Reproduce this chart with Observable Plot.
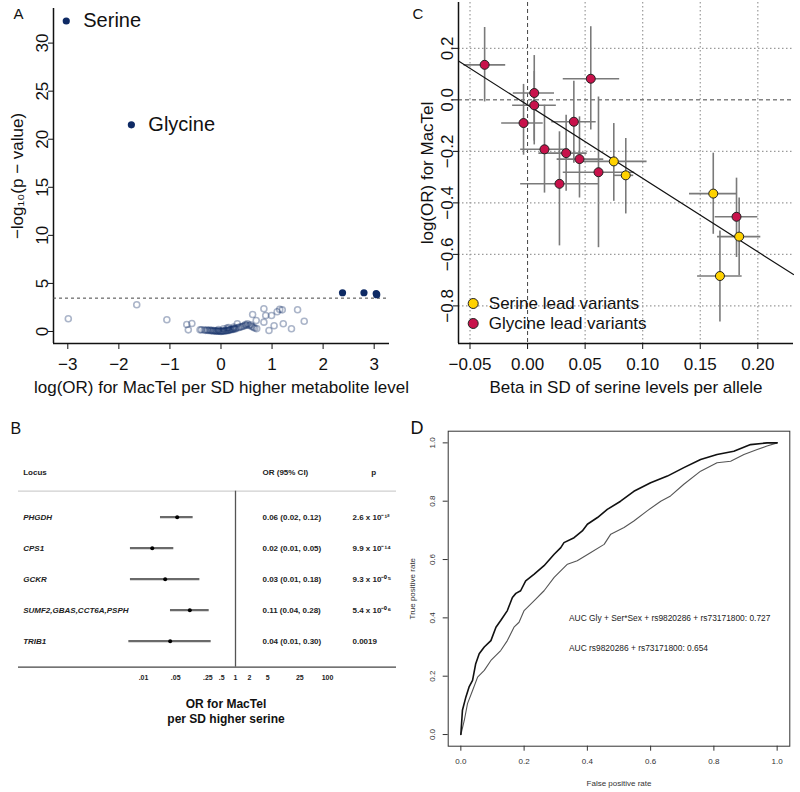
<!DOCTYPE html>
<html><head><meta charset="utf-8">
<script src="https://cdn.jsdelivr.net/npm/d3@7"></script>
<script src="https://cdn.jsdelivr.net/npm/@observablehq/plot@0.6"></script>
<style>
body{margin:0;background:#fff;}
#fig{position:relative;width:800px;height:792px;overflow:hidden;background:#fff;}
.panel{position:absolute;width:400px;}
.panel svg{overflow:visible;background:transparent;}
</style></head><body>
<div id="fig">
<div class="panel" id="pA" style="left:0;top:0;height:400px"></div>
<div class="panel" id="pC" style="left:400px;top:0;height:400px"></div>
<div class="panel" id="pB" style="left:0;top:400px;height:392px"></div>
<div class="panel" id="pD" style="left:400px;top:400px;height:392px"></div>
</div>
<script>
const FONT = '"Liberation Sans", Arial, Helvetica, sans-serif';

// ---------- Panel A data ----------
const labeledNames = ["Serine", "Glycine"];
const labeledLogOR = [-3.03, -1.755];
const labeledP = [32.3, 21.5];
const sigLogOR = [2.38, 2.80, 3.04, 3.05];
const sigP = [4.03, 4.03, 3.95, 3.83];
const otherLogOR = [-2.99, -1.65, -1.06, -0.67, -0.57, -0.64,
  -0.41, -0.38, -0.33, -0.30, -0.27, -0.25, -0.22, -0.20, -0.18, -0.16, -0.14, -0.12, -0.10, -0.08,
  -0.06, -0.04, -0.02, 0.00, 0.02, 0.04, 0.06, 0.08, 0.10, 0.12, 0.14, 0.16, 0.18, 0.20, 0.22, 0.24,
  0.26, 0.28, 0.30, 0.32, 0.34, 0.37, 0.40, 0.43, 0.46, 0.48, 0.50, 0.52, 0.55, 0.58, 0.60, 0.63,
  0.66, 0.70, 0.12, 0.25, 0.05, -0.05, 0.15,
  0.62, 0.69, 0.84, 0.876, 0.99, 0.84, 0.94, 1.04, 1.10, 1.15, 1.20, 1.22, 1.38, 1.50, 1.63];
const otherP = [1.32, 2.78, 1.22, 0.73, 0.83, 0.17,
  0.17, 0.18, 0.16, 0.12, 0.15, 0.10, 0.14, 0.08, 0.12, 0.05, 0.10, 0.04, 0.08, 0.03,
  0.06, 0.02, 0.05, 0.01, 0.04, 0.02, 0.07, 0.05, 0.10, 0.08, 0.14, 0.12, 0.20, 0.18, 0.25, 0.22,
  0.30, 0.27, 0.35, 0.80, 0.40, 0.45, 0.50, 0.55, 0.60, 0.72, 0.65, 0.80, 0.62, 0.70, 0.55, 0.45,
  0.35, 0.30, 0.35, 0.45, 0.28, 0.20, 0.40,
  1.77, 1.15, 2.36, 1.67, 1.67, 0.97, 0.10, 0.60, 2.05, 2.30, 2.25, 0.80, 0.28, 2.26, 1.07];
const thresholdP = 3.47;
const aTicksX = [-3, -2, -1, 0, 1, 2, 3];
const aTicksY = [0, 5, 10, 15, 20, 25, 30];

// ---------- Panel B data ----------
const loci = ["PHGDH", "CPS1", "GCKR", "SUMF2,GBAS,CCT6A,PSPH", "TRIB1"];
const forestOR = [0.054, 0.0155, 0.0296, 0.1016, 0.038];
const forestLo = [0.0234, 0.0052, 0.0052, 0.0386, 0.0048];
const forestHi = [0.120, 0.0456, 0.168, 0.268, 0.296];
const orText = ["0.06 (0.02, 0.12)", "0.02 (0.01, 0.05)", "0.03 (0.01, 0.18)", "0.11 (0.04, 0.28)", "0.04 (0.01, 0.30)"];
const pText = ["2.6 x 10\u207B\u00B9\u00B2", "9.9 x 10\u207B\u00B9\u2074", "9.3 x 10\u207B\u2070\u2075", "5.4 x 10\u207B\u2070\u2076", "0.0019"];
const forestTicks = [0.01, 0.05, 0.25, 0.5, 1, 2, 5, 25, 100];
const forestTickLabels = [".01", ".05", ".25", ".5", "1", "2", "5", "25", "100"];

// ---------- Panel C data ----------
const serBeta = [0.0749, 0.0853, 0.1613, 0.1838, 0.1671];
const serBetaLo = [0.0483, 0.0749, 0.1407, 0.165, 0.1477];
const serBetaHi = [0.1038, 0.0922, 0.1823, 0.2026, 0.1864];
const serLogOR = [-0.239, -0.293, -0.364, -0.531, -0.684];
const serLogORLo = [-0.394, -0.443, -0.522, -0.683, -0.863];
const serLogORHi = [-0.092, -0.150, -0.207, -0.381, -0.509];
const glyBeta = [-0.0373, 0.0058, 0.0058, -0.0035, 0.0549, 0.0402, 0.0147, 0.0335, 0.0451, 0.0277, 0.0616, 0.1815];
const glyBetaLo = [-0.0552, -0.0124, -0.013, -0.0225, 0.031, 0.021, -0.006, 0.0098, 0.0257, -0.006, 0.031, 0.163];
const glyBetaHi = [-0.019, 0.0234, 0.025, 0.0136, 0.080, 0.0596, 0.0358, 0.0518, 0.0662, 0.062, 0.093, 0.200];
const glyLogOR = [0.136, 0.0266, -0.021, -0.090, 0.082, -0.085, -0.192, -0.207, -0.230, -0.326, -0.281, -0.454];
const glyLogORLo = [-0.008, -0.175, -0.16, -0.215, -0.117, -0.246, -0.362, -0.355, -0.381, -0.567, -0.574, -0.612];
const glyLogORHi = [0.281, 0.172, 0.11, 0.060, 0.284, 0.072, -0.021, -0.06, -0.066, -0.124, 0.011, -0.304];
const fitIntercept = -0.02;
const fitSlope = -2.85;
const cTicksX = [-0.05, 0.00, 0.05, 0.10, 0.15, 0.20];
const cTicksY = [-0.8, -0.6, -0.4, -0.2, 0.0, 0.2];

// ---------- Panel D data ----------
const rocFpr1 = [0, 0.005, 0.016, 0.026, 0.037, 0.047, 0.058, 0.074, 0.095, 0.111, 0.126, 0.147, 0.163, 0.174, 0.189, 0.205, 0.232, 0.263, 0.295, 0.316, 0.326, 0.358, 0.384, 0.4, 0.432, 0.463, 0.505, 0.547, 0.60, 0.653, 0.705, 0.758, 0.81, 0.863, 0.916, 0.968, 1];
const rocTpr1 = [0, 0.083, 0.129, 0.163, 0.186, 0.243, 0.277, 0.30, 0.322, 0.368, 0.391, 0.425, 0.470, 0.484, 0.493, 0.527, 0.550, 0.579, 0.618, 0.641, 0.658, 0.675, 0.698, 0.721, 0.744, 0.772, 0.80, 0.834, 0.863, 0.886, 0.915, 0.943, 0.96, 0.971, 0.994, 1.0, 1];
const rocFpr2 = [0, 0.011, 0.021, 0.037, 0.053, 0.074, 0.095, 0.126, 0.147, 0.168, 0.184, 0.2, 0.232, 0.263, 0.295, 0.337, 0.368, 0.411, 0.453, 0.474, 0.516, 0.547, 0.589, 0.632, 0.663, 0.705, 0.758, 0.81, 0.853, 0.895, 0.937, 0.968, 1];
const rocTpr2 = [0, 0.049, 0.106, 0.151, 0.197, 0.220, 0.254, 0.288, 0.322, 0.368, 0.385, 0.425, 0.459, 0.493, 0.539, 0.584, 0.596, 0.624, 0.652, 0.687, 0.710, 0.732, 0.767, 0.80, 0.818, 0.858, 0.903, 0.932, 0.937, 0.96, 0.977, 0.989, 1];
const aucLabels = ["AUC Gly + Ser*Sex + rs9820286 + rs73171800: 0.727", "AUC rs9820286 + rs73171800: 0.654"];
const aucX = [0.342, 0.342];
const aucY = [0.40, 0.297];
const rocTicks = [0, 0.2, 0.4, 0.6, 0.8, 1.0];

// ================= Panel A =================
{
  const xDom = [-3.28, 3.30], yDom = [-1.25, 33.6];
  const others = otherLogOR.map((x, i) => ({x, y: otherP[i]}));
  const sig = sigLogOR.map((x, i) => ({x, y: sigP[i]}));
  const lab = labeledNames.map((n, i) => ({n, x: labeledLogOR[i], y: labeledP[i]}));
  const navy = "#0e2a64";
  const plot = Plot.plot({
    width: 400, height: 400,
    marginLeft: 53, marginRight: 11, marginTop: 8, marginBottom: 57,
    style: {fontFamily: FONT, fontSize: "17px", color: "#111", background: "transparent", overflow: "visible"},
    x: {domain: xDom}, y: {domain: yDom},
    marks: [
      Plot.ruleX([xDom[0]], {stroke: "#111", strokeWidth: 1.5}),
      Plot.ruleY([yDom[0]], {stroke: "#111", strokeWidth: 1.5}),
      Plot.axisX({ticks: aTicksX, tickFormat: d3.format("d"), tickSize: 6, tickPadding: 8, label: "log(OR) for MacTel per SD higher metabolite level", labelAnchor: "center", labelOffset: 49, labelArrow: "none", fontSize: 17}),
      Plot.axisY({ticks: aTicksY, tickFormat: d3.format("d"), tickSize: 5, tickPadding: 1, tickRotate: -90, label: "\u2212log\u2081\u2080(p \u2212 value)", labelAnchor: "center", labelOffset: 43, labelArrow: "none", fontSize: 17}),
      Plot.ruleY([thresholdP], {stroke: "#444", strokeDasharray: "3,3", strokeWidth: 1}),
      Plot.dot(others, {x: "x", y: "y", r: 3, stroke: navy, strokeOpacity: 0.35, strokeWidth: 1.6, fill: "none"}),
      Plot.dot(sig, {x: "x", y: "y", r: 3.6, fill: navy}),
      Plot.dot(lab, {x: "x", y: "y", r: 3.6, fill: navy}),
      Plot.text(lab, {x: "x", y: "y", text: "n", dx: 17, textAnchor: "start", lineAnchor: "middle", fontSize: 20, fill: "#111"}),
      Plot.text(["A"], {text: d => d, frameAnchor: "top-left", dx: -40, dy: 10, lineAnchor: "bottom", textAnchor: "start", fontSize: 15})
    ]
  });
  document.getElementById("pA").append(plot);
}

// ================= Panel C =================
{
  const xDom = [-0.060, 0.231], yDom = [-0.946, 0.378];
  const ser = serBeta.map((b, i) => ({b, lo: serBetaLo[i], hi: serBetaHi[i], o: serLogOR[i], olo: serLogORLo[i], ohi: serLogORHi[i]}));
  const gly = glyBeta.map((b, i) => ({b, lo: glyBetaLo[i], hi: glyBetaHi[i], o: glyLogOR[i], olo: glyLogORLo[i], ohi: glyLogORHi[i]}));
  const all = gly.concat(ser);
  const fit = xDom.map(b => ({b, o: fitIntercept + fitSlope * b}));
  const red = "#c8124b", yel = "#ffd200";
  const plot = Plot.plot({
    width: 400, height: 400,
    marginLeft: 58, marginRight: 7, marginTop: 2, marginBottom: 57,
    style: {fontFamily: FONT, fontSize: "17px", color: "#111", background: "transparent", overflow: "visible"},
    x: {domain: xDom}, y: {domain: yDom},
    marks: [
      Plot.ruleX(cTicksX.filter(d => d !== 0), {stroke: "#9a9a9a", strokeDasharray: "1.5,2.5", strokeWidth: 1.2}),
      Plot.ruleY(cTicksY.filter(d => d !== 0), {stroke: "#9a9a9a", strokeDasharray: "1.5,2.5", strokeWidth: 1.2}),
      Plot.ruleX([0], {stroke: "#444", strokeDasharray: "4,3", strokeWidth: 1}),
      Plot.ruleY([0], {stroke: "#444", strokeDasharray: "4,3", strokeWidth: 1}),
      Plot.ruleX([xDom[0]], {stroke: "#111", strokeWidth: 1.5}),
      Plot.ruleY([yDom[0]], {stroke: "#111", strokeWidth: 1.5}),
      Plot.axisX({ticks: cTicksX, tickFormat: d3.format(".2f"), tickSize: 6, tickPadding: 8, label: "Beta in SD of serine levels per allele", labelAnchor: "center", labelOffset: 49, labelArrow: "none", fontSize: 17}),
      Plot.axisY({ticks: cTicksY, tickFormat: d3.format(".1f"), tickSize: 5, tickPadding: 1, tickRotate: -90, label: "log(OR) for MacTel", labelAnchor: "center", labelOffset: 38, labelArrow: "none", fontSize: 17}),
      Plot.ruleY(all, {y: "o", x1: "lo", x2: "hi", stroke: "#7a7a7a", strokeWidth: 1.6}),
      Plot.ruleX(all, {x: "b", y1: "olo", y2: "ohi", stroke: "#7a7a7a", strokeWidth: 1.6}),
      Plot.line(fit, {x: "b", y: "o", stroke: "#111", strokeWidth: 1.1}),
      Plot.dot(gly, {x: "b", y: "o", r: 4.5, fill: red, stroke: "#222", strokeWidth: 1}),
      Plot.dot(ser, {x: "b", y: "o", r: 4.5, fill: yel, stroke: "#222", strokeWidth: 1}),
      Plot.dot([0], {frameAnchor: "bottom-left", dx: 14.7, dy: -40, r: 5, fill: yel, stroke: "#222", strokeWidth: 1}),
      Plot.dot([0], {frameAnchor: "bottom-left", dx: 14.7, dy: -20, r: 5, fill: red, stroke: "#222", strokeWidth: 1}),
      Plot.text(["Serine lead variants"], {text: d => d, frameAnchor: "bottom-left", dx: 30.3, dy: -40, textAnchor: "start", lineAnchor: "middle", fontSize: 17, fill: "#111"}),
      Plot.text(["Glycine lead variants"], {text: d => d, frameAnchor: "bottom-left", dx: 30.3, dy: -20, textAnchor: "start", lineAnchor: "middle", fontSize: 17, fill: "#111"}),
      Plot.text(["C"], {text: d => d, frameAnchor: "top-left", dx: -46, dy: 16, lineAnchor: "bottom", textAnchor: "start", fontSize: 15})
    ]
  });
  document.getElementById("pC").append(plot);
}

// ================= Panel B =================
{
  const nullPx = 235, pxPerDecade = 46, leftPx = 18, rightPx = 396;
  const rowTopLimit = -2.765, axisRow = 5.839, hlineRow = 0.161, headerRow = -0.432;
  const rows = loci.map((l, i) => ({locus: l, row: i + 1, or: forestOR[i], lo: forestLo[i], hi: forestHi[i], orText: orText[i], p: pText[i]}));
  const ticks = forestTicks.map((v, i) => ({v, label: forestTickLabels[i]}));
  const txt = {fontFamily: FONT, fontWeight: "bold", fontSize: 8, fill: "#222"};
  const plot = Plot.plot({
    width: 400, height: 392,
    marginLeft: leftPx, marginRight: 400 - rightPx, marginTop: 0, marginBottom: 392 - 266.7,
    style: {fontFamily: FONT, fontSize: "8px", color: "#222", background: "transparent", overflow: "visible"},
    x: {type: "log", domain: [10 ** ((leftPx - nullPx) / pxPerDecade), 10 ** ((rightPx - nullPx) / pxPerDecade)], axis: null},
    y: {domain: [rowTopLimit, axisRow], reverse: true, axis: null},
    marks: [
      Plot.ruleY([hlineRow], {stroke: "#cfcfcf", strokeWidth: 1.3}),
      Plot.ruleY([axisRow], {stroke: "#444", strokeWidth: 1.2}),
      Plot.ruleX([1], {y1: hlineRow, y2: axisRow, stroke: "#555", strokeWidth: 1.3}),
      Plot.text(ticks, {x: "v", text: "label", frameAnchor: "bottom", dy: 11, lineAnchor: "middle", fontSize: 7, fontWeight: "bold", fill: "#222"}),
      Plot.ruleY(rows, {y: "row", x1: "lo", x2: "hi", stroke: "#6a6a6a", strokeWidth: 2.2}),
      Plot.dot(rows, {x: "or", y: "row", r: 2, fill: "#000"}),
      Plot.text(rows, {y: "row", text: "locus", frameAnchor: "left", dx: 4.7, textAnchor: "start", ...txt, fontStyle: "italic"}),
      Plot.text(rows, {y: "row", text: "orText", frameAnchor: "left", dx: 244, textAnchor: "start", ...txt}),
      Plot.text(rows, {y: "row", text: "p", frameAnchor: "left", dx: 334, textAnchor: "start", ...txt}),
      Plot.text(["Locus"], {y: [headerRow], text: d => d, frameAnchor: "left", dx: 4.7, textAnchor: "start", ...txt}),
      Plot.text(["OR (95% CI)"], {y: [headerRow], text: d => d, frameAnchor: "left", dx: 244, textAnchor: "start", ...txt}),
      Plot.text(["p"], {y: [headerRow], text: d => d, frameAnchor: "left", dx: 355.3, textAnchor: "middle", ...txt}),
      Plot.text(["OR for MacTel\nper SD higher serine"], {text: d => d, frameAnchor: "bottom", dx: 18.5, dy: 30, lineAnchor: "top", lineHeight: 1.25, fontSize: 12, fontWeight: "bold", fill: "#111"}),
      Plot.text(["B"], {text: d => d, frameAnchor: "top-left", dx: -8, dy: 33, lineAnchor: "bottom", textAnchor: "start", fontSize: 16, fill: "#111"})
    ]
  });
  document.getElementById("pB").append(plot);
}

// ================= Panel D =================
{
  const dom = [-0.04, 1.04];
  const roc1 = rocFpr1.map((x, i) => ({x, y: rocTpr1[i]}));
  const roc2 = rocFpr2.map((x, i) => ({x, y: rocTpr2[i]}));
  const ann = aucLabels.map((t, i) => ({t, x: aucX[i], y: aucY[i]}));
  const plot = Plot.plot({
    width: 400, height: 392,
    marginLeft: 47.7, marginRight: 10.7, marginTop: 30.7, marginBottom: 46.3,
    style: {fontFamily: FONT, fontSize: "8px", color: "#333", background: "transparent", overflow: "visible"},
    x: {domain: dom}, y: {domain: dom},
    marks: [
      Plot.frame({stroke: "#333", strokeWidth: 1}),
      Plot.axisX({ticks: rocTicks, tickFormat: d3.format(".1f"), tickSize: 5, tickPadding: 7, fontSize: 8, label: "False positive rate", labelAnchor: "center", labelOffset: 40, labelArrow: "none"}),
      Plot.axisY({ticks: rocTicks, tickFormat: d3.format(".1f"), tickSize: 5, tickPadding: 8, tickRotate: -90, fontSize: 8, label: "True positive rate", labelAnchor: "center", labelOffset: 39, labelArrow: "none"}),
      Plot.line(roc2, {x: "x", y: "y", stroke: "#555", strokeWidth: 1.1}),
      Plot.line(roc1, {x: "x", y: "y", stroke: "#111", strokeWidth: 1.6}),
      Plot.text(ann, {x: "x", y: "y", text: "t", textAnchor: "start", lineAnchor: "middle", fontSize: 8.4, fill: "#222"}),
      Plot.text(["D"], {text: d => d, frameAnchor: "top-left", dx: -37.7, dy: 2.3, lineAnchor: "bottom", textAnchor: "start", fontSize: 18, fill: "#111"})
    ]
  });
  document.getElementById("pD").append(plot);
}
</script>
</body></html>
